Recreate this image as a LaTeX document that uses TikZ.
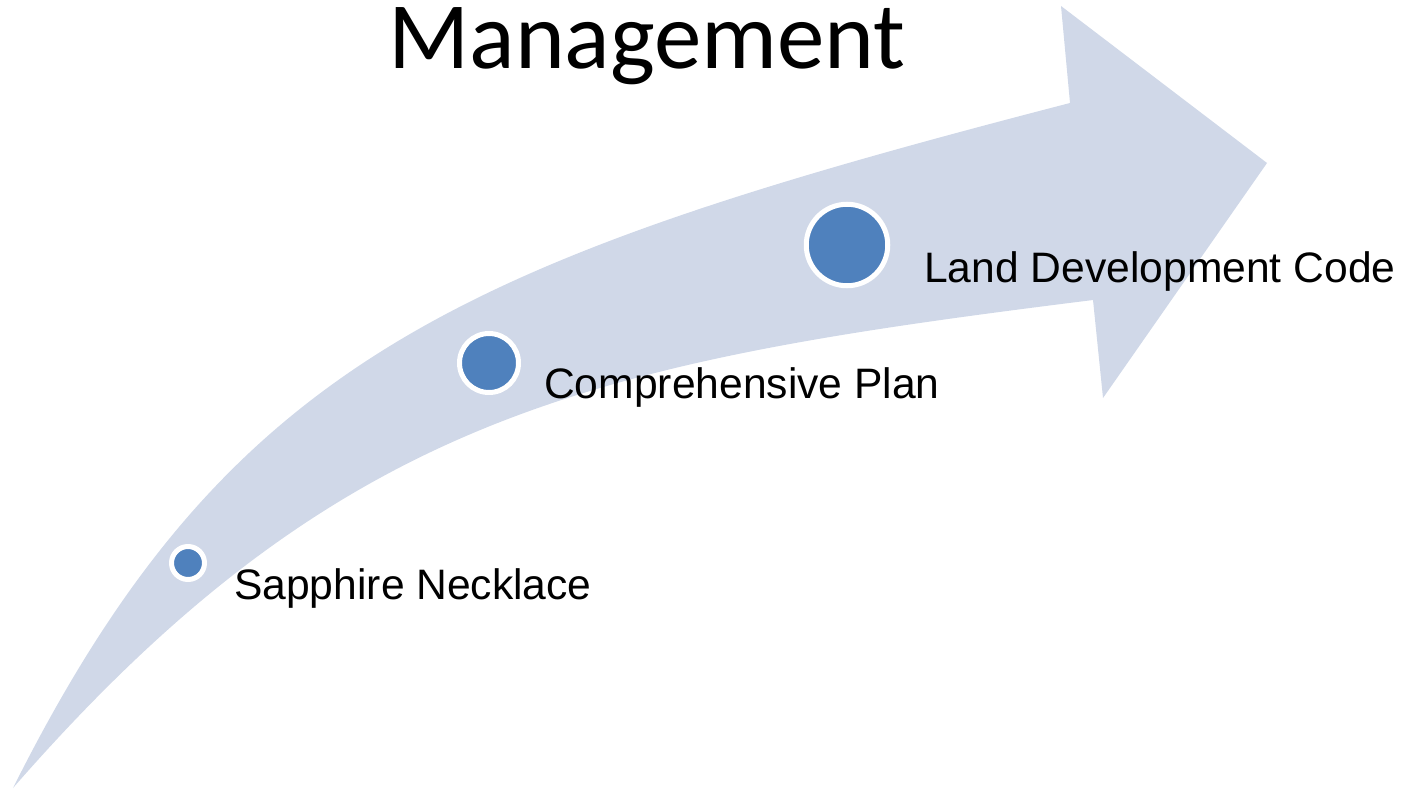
\documentclass[tikz,border=0pt]{standalone}
\usepackage{fontspec}
\setmainfont{Liberation Sans}
\newfontfamily\titlefont{Carlito}
\usepackage{tikz}
\usetikzlibrary{positioning}

\definecolor{bandblue}{RGB}{208,216,232}
\definecolor{dotblue}{RGB}{79,129,189}

\begin{document}
\begin{tikzpicture}[
      x=1pt, y=-1pt,
      dot/.style={circle, draw=white, line width=5pt, fill=dotblue, inner sep=0pt},
      lbl/.style={anchor=base west, inner sep=0pt, font=\fontsize{42.6}{50}\selectfont},
      title/.style={anchor=base, inner sep=0pt, text height=62pt, font=\titlefont\fontsize{95}{110}\selectfont}]

      \useasboundingbox (0,0) rectangle (1407,792);

      % Arrow
      \fill[bandblue] (13,788) .. controls (228,359) and (460,261) .. (1070,103)
            -- (1061,6) -- (1267,163) -- (1103,398) -- (1093,300)
            .. controls (597,362) and (342,411) .. (13,788) -- cycle;

      % Title
      \node[title] (head) at (647,68) {Management};

      % Nodes
      \node[dot, minimum size=33pt] (sn) at (188,563) {};
      \node[dot, minimum size=59pt] (cp) at (489,363) {};
      \node[dot, minimum size=81.5pt] (ldc) at (847,245) {};

      % Labels
      \node[lbl] (snlbl) at (234,599) {Sapphire Necklace};
      \node[lbl] (cplbl) at (544,398) {Comprehensive Plan};
      \node[lbl] (ldclbl) at (924,282) {Land Development Code};

\end{tikzpicture}
\end{document}
